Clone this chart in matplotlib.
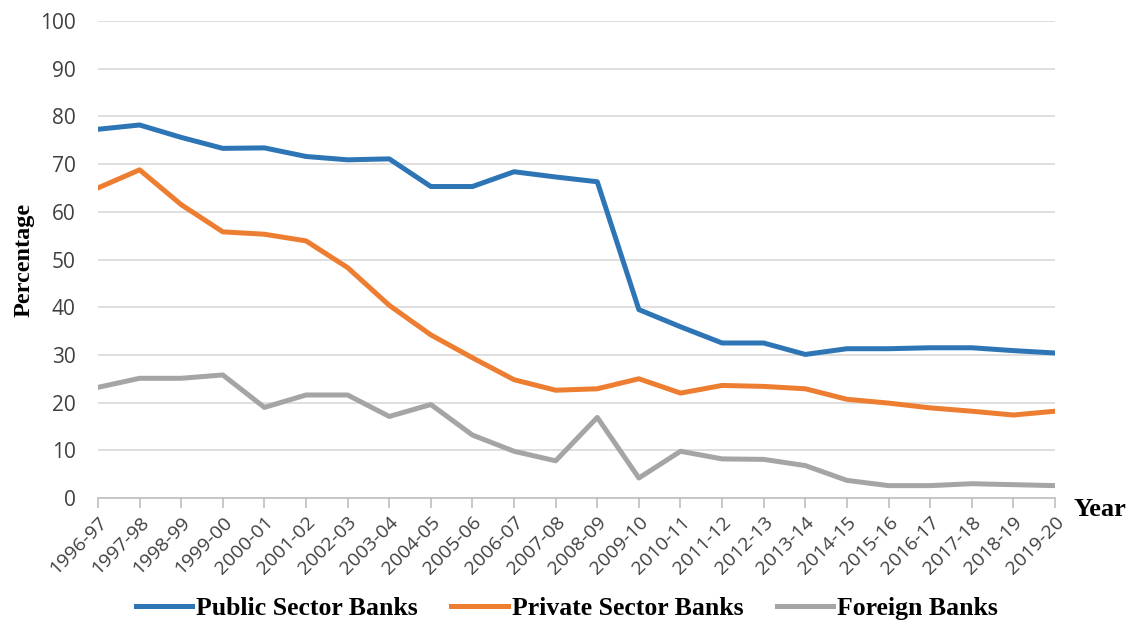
import matplotlib.pyplot as plt

years = ["1996-97", "1997-98", "1998-99", "1999-00", "2000-01", "2001-02",
         "2002-03", "2003-04", "2004-05", "2005-06", "2006-07", "2007-08",
         "2008-09", "2009-10", "2010-11", "2011-12", "2012-13", "2013-14",
         "2014-15", "2015-16", "2016-17", "2017-18", "2018-19", "2019-20"]

public = [77.3, 78.2, 75.6, 73.3, 73.4, 71.6, 70.9, 71.1, 65.3, 65.3, 68.4, 67.3,
          66.3, 39.5, 35.9, 32.5, 32.5, 30.1, 31.3, 31.3, 31.5, 31.5, 30.9, 30.4]
private = [65.0, 68.8, 61.5, 55.8, 55.3, 53.9, 48.3, 40.4, 34.2, 29.4, 24.8, 22.6,
           22.9, 25.0, 22.0, 23.6, 23.4, 22.9, 20.7, 19.9, 18.9, 18.2, 17.4, 18.2]
foreign = [23.2, 25.1, 25.1, 25.8, 19.0, 21.6, 21.6, 17.1, 19.6, 13.2, 9.8, 7.8,
           16.9, 4.2, 9.8, 8.2, 8.1, 6.8, 3.7, 2.6, 2.6, 3.0, 2.8, 2.6]

fig = plt.figure(figsize=(11.34, 6.23), dpi=100)
ax = fig.add_axes([0.0864, 0.2006, 0.8439, 0.7657])

x = list(range(len(years)))
ax.plot(x, public, color="#2E75B6", lw=3.6, label="Public Sector Banks")
ax.plot(x, private, color="#ED7D31", lw=3.6, label="Private Sector Banks")
ax.plot(x, foreign, color="#A5A5A5", lw=3.6, label="Foreign Banks")

ax.set_xlim(0, len(years) - 1)
ax.set_ylim(0, 100)
ax.set_yticks(range(0, 101, 10))
ax.yaxis.grid(True, color="#d9d9d9", lw=1.2)
ax.set_axisbelow(True)

for s in ["top", "right", "left"]:
    ax.spines[s].set_visible(False)
ax.spines["bottom"].set_color("#bfbfbf")
ax.spines["bottom"].set_linewidth(1.2)

ax.set_xticks(x)
ax.set_xticklabels(years, rotation=45, ha="right", rotation_mode="anchor",
                   fontsize=14, family="Open Sans", color="#404040")
ax.tick_params(axis="x", length=7, color="#bfbfbf", width=1.2, pad=4)
ax.tick_params(axis="y", length=0, pad=16, labelsize=15, labelcolor="#404040")
for t in ax.get_yticklabels():
    t.set_family("Open Sans")

ax.set_ylabel("Percentage", family="Liberation Serif", fontweight="bold",
              fontsize=17.5, labelpad=4)
fig.text(0.947, 0.182, "Year", family="Liberation Serif", fontweight="bold",
         fontsize=19, ha="left", va="center")

fig.legend(loc="center", bbox_to_anchor=(0.5, 0.024), ncol=3, frameon=False,
           handlelength=2.2, columnspacing=1.3, handletextpad=0.15,
           prop={"family": "Liberation Serif", "weight": "bold", "size": 18.5})

fig.savefig("out.png", dpi=100)
